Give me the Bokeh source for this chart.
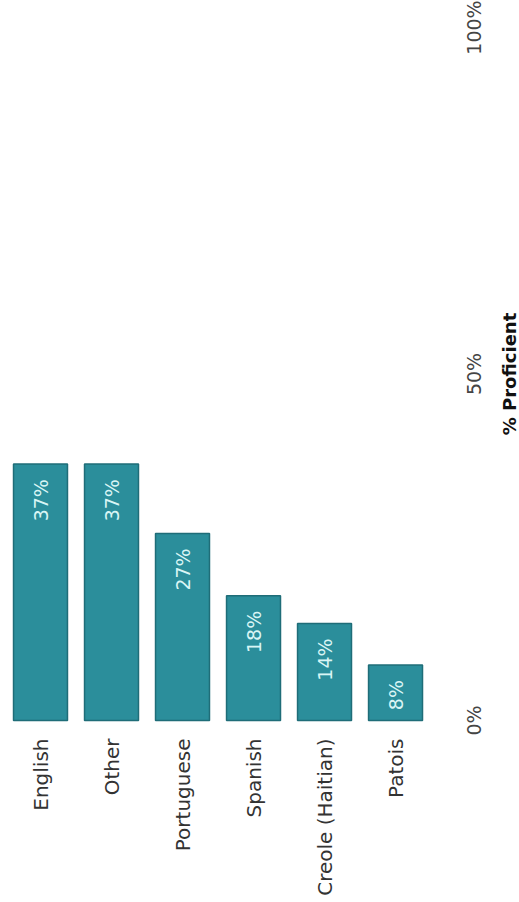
import math
from bokeh.plotting import figure
from bokeh.models import ColumnDataSource, Range1d, FixedTicker
from bokeh.core.properties import value
from bokeh.embed import file_html
from bokeh.resources import INLINE

# ---- data ----
categories = ["English", "Other", "Portuguese", "Spanish", "Creole (Haitian)", "Patois"]
proficient = [37, 37, 27, 18, 14, 8]
value_ticks = [0, 50, 100]
value_tick_labels = ["0%", "50%", "100%"]
axis_title = "% Proficient"

positions = list(range(len(categories)))
labels = [f"{v}%" for v in proficient]
source = ColumnDataSource(dict(x=positions, top=proficient, lab=labels, cat=categories))
tick_source = ColumnDataSource(dict(y=value_ticks, text=value_tick_labels))

FONT = "DejaVu Sans"
n = len(categories)

# layout constants (geometry of the rotated chart)
X_START = -0.5634          # left edge of plotting area, in category units
X_END = 6.746              # right edge (room for value labels and title)
Y_START = -2.6             # small room below the baseline for the "0%" label
Y_END = 103.9              # top edge
TICK_LABEL_X = n + 0.10    # column of the value tick labels
TITLE_X = n + 0.60         # column of the value-axis title

p = figure(width=519, height=902, output_backend="svg", toolbar_location=None,
           x_range=Range1d(X_START, X_END), y_range=Range1d(Y_START, Y_END),
           min_border_left=0, min_border_right=0, min_border_top=0, min_border_bottom=164)
p.outline_line_color = None
p.grid.grid_line_color = None
p.background_fill_color = "white"
p.border_fill_color = "white"
p.yaxis.visible = False

p.vbar(x="x", top="top", bottom=0, width=0.76, source=source,
       fill_color="#2b8e9b", line_color="#1f6d78", line_width=1.5)

p.text(x="x", y="top", text="lab", source=source, angle=math.pi / 2,
       y_offset=15, text_align="right", text_baseline="middle",
       text_font=value(FONT), text_font_size="19px", text_color="#d9f5f5")

# value scale on the right: tick labels and title, reading bottom to top
p.text(x=TICK_LABEL_X, y="y", text="text", source=tick_source, angle=math.pi / 2,
       text_align="center", text_baseline="middle",
       text_font=value(FONT), text_font_size="19px", text_color="#444444")
p.text(x=[TITLE_X], y=[50], text=[axis_title], angle=math.pi / 2,
       text_align="center", text_baseline="middle",
       text_font=value(FONT), text_font_size="18px", text_font_style="bold",
       text_color="#111111")

# category axis (below)
xa = p.xaxis[0]
xa.ticker = FixedTicker(ticks=positions)
xa.major_label_overrides = {i: c for i, c in zip(positions, categories)}
xa.major_label_orientation = math.pi / 2
xa.major_label_standoff = 0
xa.axis_label_standoff = 0
xa.major_label_text_font = FONT
xa.major_label_text_font_size = "20px"
xa.major_label_text_color = "#333333"
xa.axis_line_color = None
xa.major_tick_line_color = None
xa.minor_tick_line_color = None
xa.major_tick_out = 0
xa.major_tick_in = 0

open("out.html", "w").write(file_html(p, INLINE))
